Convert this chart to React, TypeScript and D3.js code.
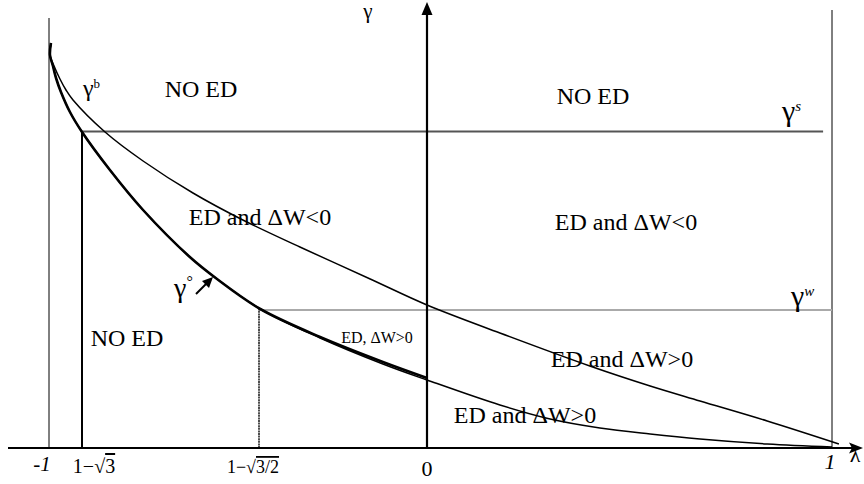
import React from 'react';
import * as d3 from 'd3';

const W = 864;
const H = 484;
const FONT = '"Liberation Serif", "Times New Roman", serif';

// λ positions that carry a tick label on the horizontal axis
const lambdaTicks = [-1, 1 - Math.sqrt(3), 1 - Math.sqrt(1.5), 0, 1];

// threshold levels of γ
const gammaS = 3.165;
const gammaW = 1.38;

// γ^b : upper boundary curve
const gammaBLambda = [-0.984, -0.992, -0.959, -0.911, -0.862, -0.805, -0.666, -0.557, -0.414, -0.271, -0.17, -0.076, 0, 0.18, 0.402, 0.551, 0.674, 0.84, 1.017];
const gammaBValue = [4.05, 3.93, 3.82, 3.69, 3.58, 3.48, 3.16, 2.87, 2.55, 2.28, 2.01, 1.69, 1.43, 1.15, 0.82, 0.62, 0.47, 0.27, 0.04];

// lower boundary curve, running down to λ = 1
const lowerLambda = [-0.984, -0.992, -0.968, -0.943, -0.903, -0.83, -0.732, -0.652, -0.557, -0.423, -0.345, -0.223, -0.143, -0.059, 0, 0.18, 0.304, 0.427, 0.551, 0.674, 0.84, 1.0];
const lowerValue = [4.05, 3.93, 3.82, 3.7, 3.56, 3.36, 3.16, 2.78, 2.38, 1.91, 1.69, 1.39, 1.1, 0.84, 0.68, 0.43, 0.29, 0.2, 0.14, 0.09, 0.04, 0.01];

// γ° : thick curve, ends at λ = 0
const gammaZeroLambda = [-0.984, -0.992, -0.968, -0.943, -0.903, -0.83, -0.732, -0.652, -0.557, -0.423, -0.345, -0.223, -0.143, -0.059, 0];
const gammaZeroValue = [4.05, 3.93, 3.82, 3.7, 3.56, 3.36, 3.16, 2.78, 2.38, 1.91, 1.69, 1.39, 1.11, 0.86, 0.7];

const zip = (a: number[], b: number[]) => a.map((v, i) => [v, b[i]] as [number, number]);

const App = () => {
  const x = d3.scaleLinear().domain(lambdaTicks).range([49, 82, 259, 427, 832]);
  const y = d3.scaleLinear().domain([0, 4]).range([448, 48]);

  const line = d3
    .line<[number, number]>()
    .x(d => x(d[0]))
    .y(d => y(d[1]))
    .curve(d3.curveCatmullRom.alpha(0.5));

  const axisY = y(0);
  const x0 = x(0);

  return (
    <svg
      width={W}
      height={H}
      style={{ position: 'absolute', left: 0, top: 0, background: '#fff' }}
      fontFamily={FONT}
    >
      {/* side verticals at λ = -1 and λ = 1 */}
      <line x1={x(-1)} x2={x(-1)} y1={axisY} y2={y(4.3)} stroke="#000" strokeWidth={1} />
      <line x1={x(1)} x2={x(1)} y1={axisY} y2={y(4.38)} stroke="#000" strokeWidth={1} />

      {/* threshold lines */}
      <line x1={x(lambdaTicks[1])} x2={x(0.978)} y1={y(gammaS)} y2={y(gammaS)} stroke="#555" strokeWidth={2.2} />
      <line x1={x(lambdaTicks[2])} x2={x(1)} y1={y(gammaW)} y2={y(gammaW)} stroke="#aaa" strokeWidth={2} />
      <line x1={x(lambdaTicks[1])} x2={x(lambdaTicks[1])} y1={axisY} y2={y(gammaS)} stroke="#000" strokeWidth={2} />
      <line x1={x(lambdaTicks[2])} x2={x(lambdaTicks[2])} y1={axisY} y2={y(gammaW) - 2} stroke="#222" strokeWidth={1.6} strokeDasharray="2 0.6" />

      {/* curves */}
      <path d={line(zip(gammaBLambda, gammaBValue)) || ''} fill="none" stroke="#000" strokeWidth={1.5} />
      <path d={line(zip(lowerLambda, lowerValue)) || ''} fill="none" stroke="#000" strokeWidth={1.5} />
      <path d={line(zip(gammaZeroLambda, gammaZeroValue)) || ''} fill="none" stroke="#000" strokeWidth={2.6} />

      {/* axes */}
      <line x1={8} x2={852} y1={axisY} y2={axisY} stroke="#000" strokeWidth={2.2} />
      <path d={`M863,${axisY} L849,${axisY - 5.5} L852,${axisY} L849,${axisY + 5.5} Z`} fill="#000" />
      <line x1={x0} x2={x0} y1={axisY} y2={12} stroke="#000" strokeWidth={2.2} />
      <path d={`M${x0},2 L${x0 - 5.5},15 L${x0 + 5.5},15 Z`} fill="#000" />

      {/* tick labels */}
      <text x={x(-1) - 7} y={471} fontSize={21} fontStyle="italic" textAnchor="middle">-1</text>
      <text x={94} y={473} fontSize={20} textAnchor="middle">
        1−√<tspan textDecoration="overline">3</tspan>
      </text>
      <text x={253} y={473} fontSize={18} textAnchor="middle">
        1−√<tspan textDecoration="overline">3/2</tspan>
      </text>
      <text x={x0} y={476} fontSize={22} textAnchor="middle">0</text>
      <text x={x(1) - 2} y={469} fontSize={22} fontStyle="italic" textAnchor="middle">1</text>
      <text x={855} y={462} fontSize={22} textAnchor="middle">λ</text>
      <text x={368} y={18} fontSize={21} textAnchor="middle">γ</text>

      {/* curve names */}
      <text x={83} y={96} fontSize={24}>γ<tspan fontSize={13} dy={-8}>b</tspan></text>
      <text x={782} y={121} fontSize={30}>γ<tspan fontSize={15} dy={-10} fontStyle="italic">s</tspan></text>
      <text x={791} y={306} fontSize={30}>γ<tspan fontSize={15} dy={-10} fontStyle="italic">w</tspan></text>
      <text x={174} y={297} fontSize={28}>γ<tspan fontSize={16} dy={-10}>°</tspan></text>
      <line x1={196} y1={294} x2={207} y2={283} stroke="#000" strokeWidth={2} />
      <path d="M213,277 L202,281 L209,288 Z" fill="#000" />

      {/* region names */}
      <g fontSize={24} textAnchor="middle">
        <text x={201} y={97}>NO ED</text>
        <text x={593} y={104}>NO ED</text>
        <text x={260} y={225}>ED and ΔW&lt;0</text>
        <text x={626} y={230}>ED and ΔW&lt;0</text>
        <text x={127} y={346}>NO ED</text>
        <text x={622} y={367}>ED and ΔW&gt;0</text>
        <text x={525} y={423}>ED and ΔW&gt;0</text>
      </g>
      <text x={377} y={343} fontSize={16} textAnchor="middle">ED, ΔW&gt;0</text>
    </svg>
  );
};

export default App;
